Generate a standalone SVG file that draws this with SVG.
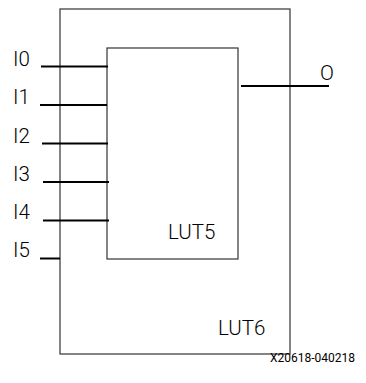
<svg xmlns="http://www.w3.org/2000/svg" width="366" height="383" viewBox="0 0 366 383">
<style>
.box{fill:none;stroke:#333;stroke-width:1.2}
.wire{stroke:#000;stroke-width:2}
.lbl{font-family:Roboto,"Liberation Sans",sans-serif;font-size:20.5px;font-weight:300;fill:#000}
.id{font-family:Roboto,"Liberation Sans",sans-serif;font-size:12px;fill:#000}
</style>
<rect width="366" height="383" fill="#fff"/>
<g id="lut6">
<rect class="box" x="60" y="9" width="230" height="345"/>
<text class="lbl" x="218" y="335">LUT6</text>
</g>
<g id="lut5">
<rect class="box" x="107" y="48" width="131" height="211"/>
<text class="lbl" x="168" y="239">LUT5</text>
</g>
<g id="connectors">
<line class="wire" x1="41" y1="66.5" x2="108" y2="66.5"/>
<line class="wire" x1="40" y1="105" x2="107" y2="105"/>
<line class="wire" x1="42" y1="143.5" x2="108" y2="143.5"/>
<line class="wire" x1="43" y1="182" x2="109" y2="182"/>
<line class="wire" x1="43" y1="220.5" x2="109" y2="220.5"/>
<line class="wire" x1="40" y1="258.5" x2="60" y2="258.5"/>
<line class="wire" x1="241" y1="86" x2="329" y2="86"/>
</g>
<g id="labels">
<text class="lbl" x="13" y="66">I0</text>
<text class="lbl" x="13" y="104">I1</text>
<text class="lbl" x="13" y="143">I2</text>
<text class="lbl" x="13" y="181">I3</text>
<text class="lbl" x="13" y="219">I4</text>
<text class="lbl" x="13" y="257">I5</text>
<text class="lbl" x="320" y="80">O</text>
</g>
<text class="id" x="270" y="362">X20618-040218</text>
</svg>
